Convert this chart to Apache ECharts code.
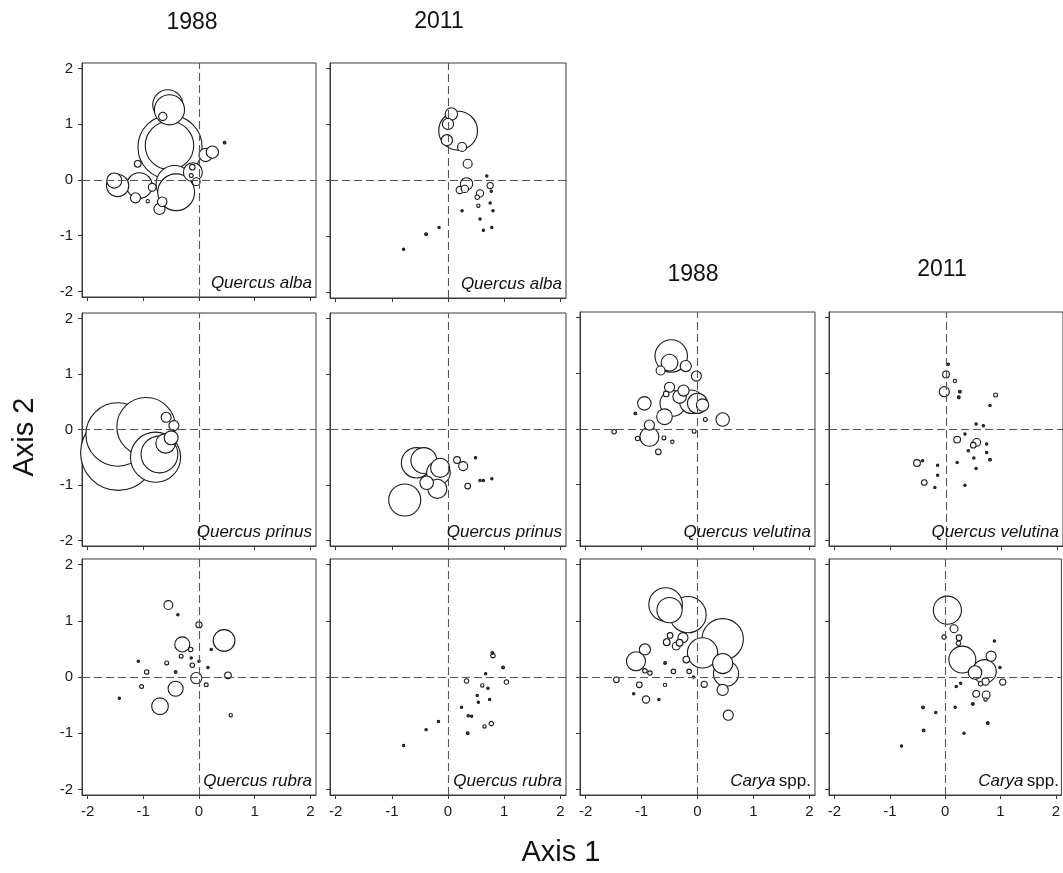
<!DOCTYPE html>
<html>
<head>
<meta charset="utf-8">
<script src="https://cdn.jsdelivr.net/npm/echarts@6/dist/echarts.min.js"></script>
<style>
html,body{margin:0;padding:0;background:#fff;}
#chart{width:1063px;height:873px;}
</style>
</head>
<body>
<div id="chart"></div>
<script>
// ---- tick labels ----
const tickValues = [-2, -1, 0, 1, 2];
const axisRange = 2.1;

// ---- panel texts ----
const yearLabels = ['1988', '2011'];
const speciesNames = ['Quercus alba', 'Quercus prinus', 'Quercus velutina', 'Quercus rubra', 'Carya'];

// ---- data: [axis1, axis2, bubble diameter in axis units] ----
const albaA1988 = [
  [-0.52,0.59,1.15],[-0.56,1.35,0.54],[-0.53,1.26,0.54],[-0.53,0.62,0.87],[-0.65,1.14,0.15],
  [0.12,0.45,0.24],[0.24,0.5,0.22],[0.46,0.67,0.05],[-1.1,0.29,0.12],[-1.46,-0.1,0.4],
  [-1.52,-0.01,0.27],[-1.07,-0.1,0.46],[-1.14,-0.32,0.18],[-0.84,-0.13,0.14],[-0.71,-0.52,0.2],
  [-0.66,-0.39,0.17],[-0.44,-0.07,0.66],[-0.41,-0.22,0.66],[-0.11,0.14,0.34],[-0.12,0.23,0.1],
  [-0.05,-0.03,0.14],[-0.14,0.08,0.07],[-0.92,-0.38,0.06]
];
const albaB2011 = [
  [0.18,0.89,0.69],[0.06,1.19,0.22],[0,1.01,0.2],[-0.02,0.72,0.2],[0.25,0.6,0.16],
  [0.35,0.3,0.16],[0.33,-0.06,0.22],[0.21,-0.17,0.13],[0.3,-0.15,0.13],[0.57,-0.23,0.13],
  [0.75,-0.09,0.11],[0.52,-0.3,0.08],[0.54,-0.45,0.06],[0.25,-0.54,0.04],[0.57,-0.69,0.04],
  [0.8,-0.54,0.04],[0.78,-0.84,0.03],[0.63,-0.89,0.03],[-0.39,-0.96,0.05],[-0.16,-0.84,0.03],
  [-0.79,-1.23,0.03],[0.69,0.08,0.03],[0.77,-0.19,0.03],[0.75,-0.4,0.03]
];
const prinusA1988 = [
  [-1.45,-0.42,1.35],[-0.95,0.05,1.05],[-1.46,-0.09,1.14],[-0.78,-0.5,0.9],[-0.71,-0.45,0.66],
  [-0.6,-0.25,0.35],[-0.59,0.22,0.18],[-0.45,0.07,0.18],[-0.5,-0.15,0.25]
];
const prinusB2011 = [
  [-0.77,-1.27,0.57],[-0.56,-0.6,0.54],[-0.43,-0.56,0.46],[-0.17,-0.78,0.42],[-0.14,-0.69,0.34],
  [-0.38,-0.96,0.24],[-0.19,-1.07,0.34],[0.16,-0.55,0.12],[0.27,-0.66,0.16],[0.35,-1.02,0.1],
  [0.57,-0.92,0.04],[0.63,-0.92,0.03],[0.78,-0.89,0.03],[0.49,-0.51,0.03]
];
const velutinaA1988 = [
  [-0.47,1.31,0.58],[-0.5,1.19,0.3],[-0.66,1.05,0.16],[-0.21,1.13,0.2],[-0.02,0.95,0.18],
  [-0.95,0.46,0.24],[-0.5,0.75,0.18],[-0.56,0.63,0.1],[-0.25,0.69,0.2],[-0.32,0.58,0.24],
  [-0.44,0.46,0.46],[-0.11,0.49,0.42],[0,0.46,0.36],[0.09,0.43,0.22],[-0.59,0.22,0.28],
  [0.45,0.17,0.24],[0.14,0.17,0.07],[-1.11,0.28,0.05],[-0.86,0.07,0.18],[-0.86,-0.14,0.34],
  [-1.07,-0.17,0.08],[-1.49,-0.05,0.08],[-0.6,-0.16,0.07],[-0.45,-0.23,0.06],[-0.7,-0.41,0.1],
  [-0.06,-0.04,0.07]
];
const velutinaB2011 = [
  [-0.03,0.67,0.18],[0,0.98,0.12],[0.04,1.16,0.03],[0.16,0.86,0.06],[0.25,0.67,0.05],
  [0.23,0.57,0.05],[0.89,0.61,0.07],[0.2,-0.19,0.12],[0.34,-0.09,0.03],[0.55,-0.24,0.14],
  [0.49,-0.29,0.1],[0.4,-0.39,0.04],[0.54,0.09,0.03],[0.67,0.06,0.03],[0.73,-0.27,0.03],
  [0.73,-0.42,0.03],[0.79,-0.55,0.05],[0.5,-0.52,0.03],[0.54,-0.71,0.04],[0.2,-0.6,0.03],
  [0.34,-1.01,0.03],[0.79,0.42,0.03],[-0.52,-0.61,0.12],[-0.42,-0.57,0.04],[-0.39,-0.96,0.1],
  [-0.15,-0.65,0.03],[-0.15,-0.83,0.03],[-0.2,-1.05,0.03]
];
const rubraA1988 = [
  [-0.55,1.28,0.16],[-0.38,1.11,0.04],[0,0.93,0.11],[0.45,0.65,0.39],[-0.3,0.58,0.27],
  [-0.15,0.49,0.08],[-0.32,0.37,0.07],[0.22,0.49,0.04],[-0.14,0.34,0.03],[0,0.28,0.03],
  [-0.12,0.21,0.08],[-0.58,0.25,0.07],[-1.09,0.28,0.03],[-0.94,0.09,0.08],[-0.42,0.09,0.05],
  [0.16,0.17,0.03],[-0.05,-0.02,0.2],[0.52,0.03,0.12],[-0.42,-0.21,0.27],[0.13,-0.14,0.07],
  [-1.03,-0.17,0.07],[-0.7,-0.52,0.3],[-1.43,-0.38,0.03],[0.57,-0.68,0.06]
];
const rubraB2011 = [
  [0.8,0.38,0.08],[0.79,0.43,0.05],[0.98,0.17,0.05],[0.67,0.06,0.03],[0.33,-0.07,0.08],
  [1.04,-0.09,0.08],[0.61,-0.15,0.06],[0.71,-0.2,0.03],[0.52,-0.33,0.03],[0.54,-0.45,0.03],
  [0.74,-0.4,0.02],[0.24,-0.54,0.02],[0.36,-0.69,0.04],[0.42,-0.7,0.03],[0.77,-0.83,0.08],
  [0.65,-0.88,0.06],[0.35,-1.0,0.05],[-0.17,-0.79,0.03],[-0.39,-0.94,0.02],[-0.79,-1.22,0.02]
];
const caryaA1988 = [
  [-0.57,1.29,0.6],[-0.17,1.11,0.65],[-0.5,1.19,0.45],[0.45,0.67,0.74],[0.09,0.43,0.54],
  [0.51,0.06,0.45],[0.45,0.24,0.36],[0.45,-0.23,0.2],[0.55,-0.68,0.18],[-0.26,0.7,0.18],
  [-0.38,0.55,0.14],[-0.55,0.62,0.12],[-0.49,0.74,0.1],[-0.32,0.61,0.12],[-0.2,0.31,0.12],
  [-0.94,0.49,0.2],[-1.1,0.28,0.34],[-0.94,0.11,0.08],[-0.85,0.07,0.08],[-0.58,0.25,0.05],
  [-0.43,0.1,0.08],[-0.15,0.1,0.08],[-0.07,0,0.03],[-1.45,-0.05,0.1],[-1.04,-0.14,0.1],
  [-0.58,-0.14,0.06],[-0.92,-0.4,0.13],[-1.14,-0.3,0.03],[-0.69,-0.4,0.03],[0.12,-0.13,0.11]
];
const caryaB2011 = [
  [0.04,1.19,0.5],[0.16,0.86,0.14],[-0.02,0.71,0.08],[0.25,0.7,0.1],[0.24,0.6,0.08],
  [0.89,0.64,0.03],[0.31,0.31,0.48],[0.71,0.1,0.42],[0.83,0.37,0.18],[0.54,0.08,0.24],
  [0.99,0.17,0.03],[1.04,-0.09,0.11],[0.73,-0.08,0.13],[0.64,-0.12,0.08],[0.56,-0.3,0.12],
  [0.74,-0.32,0.14],[0.73,-0.4,0.06],[0.28,-0.11,0.03],[0.2,-0.17,0.03],[0.5,-0.48,0.05],
  [-0.4,-0.54,0.05],[-0.17,-0.63,0.03],[0.18,-0.54,0.02],[-0.39,-0.95,0.05],[0.34,-1.0,0.04],
  [0.77,-0.82,0.05],[-0.79,-1.23,0.03]
];

// ---- layout ----
const FONT = '"Liberation Sans", Arial, sans-serif';
const panels = [
  {data: albaA1988,     left: 82,  top: 63,  w: 234, h: 234, sp: 0, yLab: true,  xLab: false},
  {data: albaB2011,     left: 330, top: 63,  w: 236, h: 235, sp: 0, yLab: false, xLab: false},
  {data: prinusA1988,   left: 82,  top: 313, w: 234, h: 233, sp: 1, yLab: true,  xLab: false},
  {data: prinusB2011,   left: 330, top: 313, w: 236, h: 233, sp: 1, yLab: false, xLab: false},
  {data: velutinaA1988, left: 580, top: 312, w: 235, h: 234, sp: 2, yLab: false, xLab: false},
  {data: velutinaB2011, left: 829, top: 312, w: 236, h: 234, sp: 2, yLab: false, xLab: false},
  {data: rubraA1988,    left: 82,  top: 559, w: 234, h: 236, sp: 3, yLab: true,  xLab: true},
  {data: rubraB2011,    left: 330, top: 559, w: 236, h: 236, sp: 3, yLab: false, xLab: true},
  {data: caryaA1988,    left: 580, top: 559, w: 235, h: 236, sp: 4, yLab: false, xLab: true},
  {data: caryaB2011,    left: 829, top: 559, w: 236, h: 236, sp: 4, yLab: false, xLab: true}
];

const grids = [], xAxes = [], yAxes = [], series = [], graphics = [];
panels.forEach((p, i) => {
  grids.push({left: p.left, top: p.top, width: p.w, height: p.h, show: true,
    borderColor: '#3a3a3a', borderWidth: 1, backgroundColor: 'transparent'});
  const common = {
    type: 'value', gridIndex: i, min: -axisRange, max: axisRange,
    splitLine: {show: false},
    axisLine: {show: true, onZero: false, lineStyle: {color: '#3a3a3a', width: 1}},
    axisTick: {show: true, inside: false, length: 4, customValues: tickValues, lineStyle: {color: '#3a3a3a'}}
  };
  xAxes.push(Object.assign({}, common, {
    axisLabel: {show: p.xLab, customValues: tickValues, color: '#1a1a1a', fontSize: 15, fontFamily: FONT, margin: 9}
  }));
  yAxes.push(Object.assign({}, common, {
    axisLabel: {show: p.yLab, customValues: tickValues, color: '#1a1a1a', fontSize: 15, fontFamily: FONT, margin: 9}
  }));
  const pxPerUnit = p.w / (2 * axisRange);
  // dashed zero lines (beneath bubbles)
  series.push({
    type: 'scatter', xAxisIndex: i, yAxisIndex: i, data: [[0, 0]], symbolSize: 0, z: 1, silent: true,
    markLine: {silent: true, symbol: 'none', label: {show: false}, animation: false,
      lineStyle: {type: [8, 4], color: '#555', width: 1.1},
      data: [{xAxis: 0}, {yAxis: 0}]}
  });
  const sorted = p.data.slice().sort((a, b) => b[2] - a[2]);
  series.push({
    type: 'scatter', xAxisIndex: i, yAxisIndex: i, z: 3,
    data: sorted.map(v => ({value: v, itemStyle: {color: v[2] <= 0.05 ? '#444' : '#fff'}})),
    symbol: 'circle',
    symbolSize: v => Math.max(2.4, v[2] * pxPerUnit),
    itemStyle: {borderColor: '#1a1a1a', borderWidth: 1.1, opacity: 1}
  });
  // species label
  const name = speciesNames[p.sp];
  const txt = name === 'Carya' ? '{i|Carya} {n|spp.}' : '{i|' + name + '}';
  graphics.push({
    type: 'text', z: 10, x: p.left + Math.min(p.w, 1063 - p.left) - 4, y: p.top + p.h - 5,
    style: {text: txt, align: 'right', verticalAlign: 'bottom', fill: '#111',
      rich: {
        i: {fontStyle: 'italic', fontSize: 17, fontFamily: FONT, fill: '#111'},
        n: {fontSize: 17, fontFamily: FONT, fill: '#111'}
      }}
  });
});

// year titles
[[192, 23, 0], [439, 22, 1], [693, 275, 0], [942, 270, 1]].forEach(t => {
  graphics.push({type: 'text', x: t[0], y: t[1], style: {text: yearLabels[t[2]], align: 'center',
    verticalAlign: 'middle', fontSize: 23, fontFamily: FONT, fill: '#111'}});
});
// axis titles
graphics.push({type: 'text', x: 561, y: 853, style: {text: 'Axis 1', align: 'center', verticalAlign: 'middle',
  fontSize: 29, fontFamily: FONT, fill: '#111'}});
graphics.push({type: 'text', x: 25, y: 437, rotation: Math.PI / 2, style: {text: 'Axis 2', align: 'center',
  verticalAlign: 'middle', fontSize: 29, fontFamily: FONT, fill: '#111'}});

const chart = echarts.init(document.getElementById('chart'), null, {renderer: 'canvas'});
chart.setOption({
  animation: false,
  backgroundColor: '#fff',
  grid: grids, xAxis: xAxes, yAxis: yAxes, series: series, graphic: graphics
});
</script>
</body>
</html>
